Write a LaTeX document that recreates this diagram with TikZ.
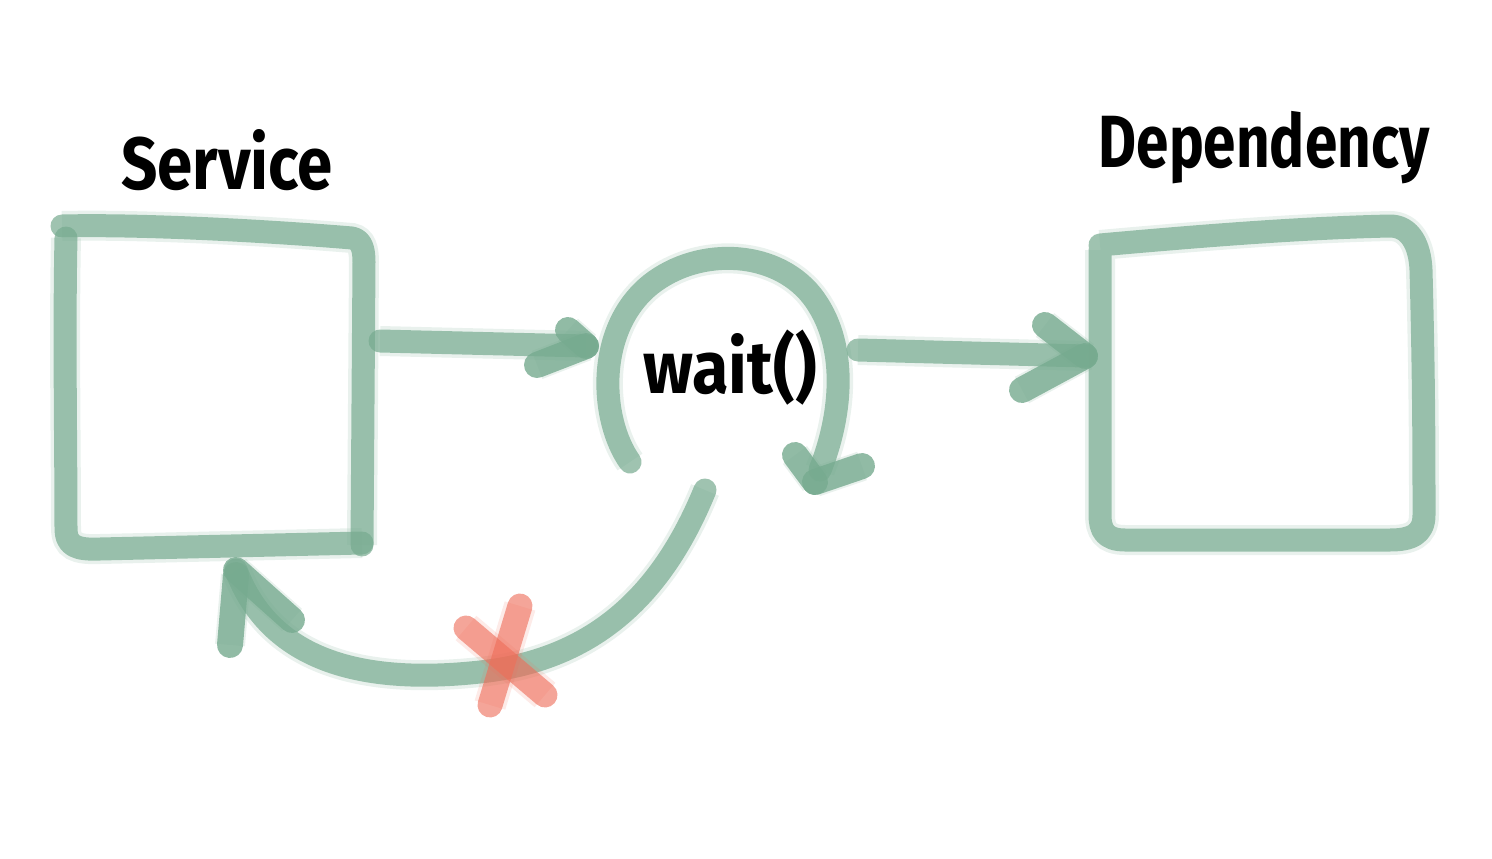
\documentclass[tikz,border=0pt]{standalone}
\usepackage{fontspec}
\setmainfont{Fira Sans}
\definecolor{pen}{RGB}{118,170,143}
\definecolor{redpen}{RGB}{238,110,90}
\tikzset{
  pencil/.style={draw=pen, line width=23pt, line cap=round, line join=round, draw opacity=0.7,
    preaction={draw=pen, line width=30pt, draw opacity=0.16}},
  headstroke/.style={pencil, line width=26pt, draw opacity=0.8},
  redstroke/.style={draw=redpen, line width=25pt, line cap=round, draw opacity=0.62,
    preaction={draw=redpen, line width=32pt, draw opacity=0.14}},
  label/.style={font=\bfseries\fontsize{74}{80}\selectfont, text=black, inner sep=0pt}
}
\begin{document}
\begin{tikzpicture}[x=1pt,y=-1pt]
\useasboundingbox (0,0) rectangle (1492,859);
% titles
\node[label] (svc) at (227,160) {\scalebox{0.86}[1]{Service}};
\node[label] (dep) at (1264,148) {\scalebox{0.79}[1]{Dependency}};
\node[label] (wait) at (730,368) {\scalebox{0.9}[1]{wait()}};
% Service box
\draw[pencil] (62,226) .. controls (150,224) and (280,232) .. (352,238)
  .. controls (362,240) and (364,250) .. (364,262)
  -- (362,545);
\draw[pencil] (66,238) .. controls (64,330) and (66,450) .. (66,528)
  .. controls (66,546) and (76,550) .. (100,549)
  -- (362,543);
% Dependency box
\draw[pencil] (1100,245) .. controls (1200,236) and (1300,228) .. (1390,226)
  .. controls (1410,226) and (1420,245) .. (1421,270)
  .. controls (1424,380) and (1424,460) .. (1424,515)
  .. controls (1424,535) and (1410,540) .. (1390,540)
  -- (1125,540) .. controls (1105,540) and (1100,530) .. (1100,515)
  -- (1100,250);
% arrow service -> wait
\coordinate (a1s) at (380,341);
\coordinate (a1e) at (586,346);
\draw[pencil] (a1s) -- (a1e);
\draw[headstroke] (568,330) -- (a1e);
\draw[headstroke] (537,365) -- (a1e);
% wait loop
\draw[pencil] (630,462) .. controls (600,420) and (595,330) .. (650,285)
  .. controls (700,245) and (780,250) .. (815,300)
  .. controls (850,350) and (840,420) .. (820,470);
\coordinate (lh) at (815,482);
\draw[headstroke] (795,455) -- (lh);
\draw[headstroke] (lh) -- (862,466);
% arrow wait -> dependency
\coordinate (a2s) at (858,350);
\coordinate (a2e) at (1085,356);
\draw[pencil] (a2s) -- (a2e);
\draw[headstroke] (1045,325) -- (a2e);
\draw[headstroke] (1022,390) -- (a2e);
% return arrow
\coordinate (rs) at (705,490);
\coordinate (re) at (236,570);
\draw[pencil] (rs) .. controls (660,600) and (590,660) .. (480,672)
  .. controls (360,685) and (270,660) .. (re);
\draw[headstroke] (re) -- (292,620);
\draw[headstroke] (236,575) -- (230,645);
% red cross
\draw[redstroke] (466,628) -- (545,695);
\draw[redstroke] (520,606) -- (490,705);
\end{tikzpicture}
\end{document}
